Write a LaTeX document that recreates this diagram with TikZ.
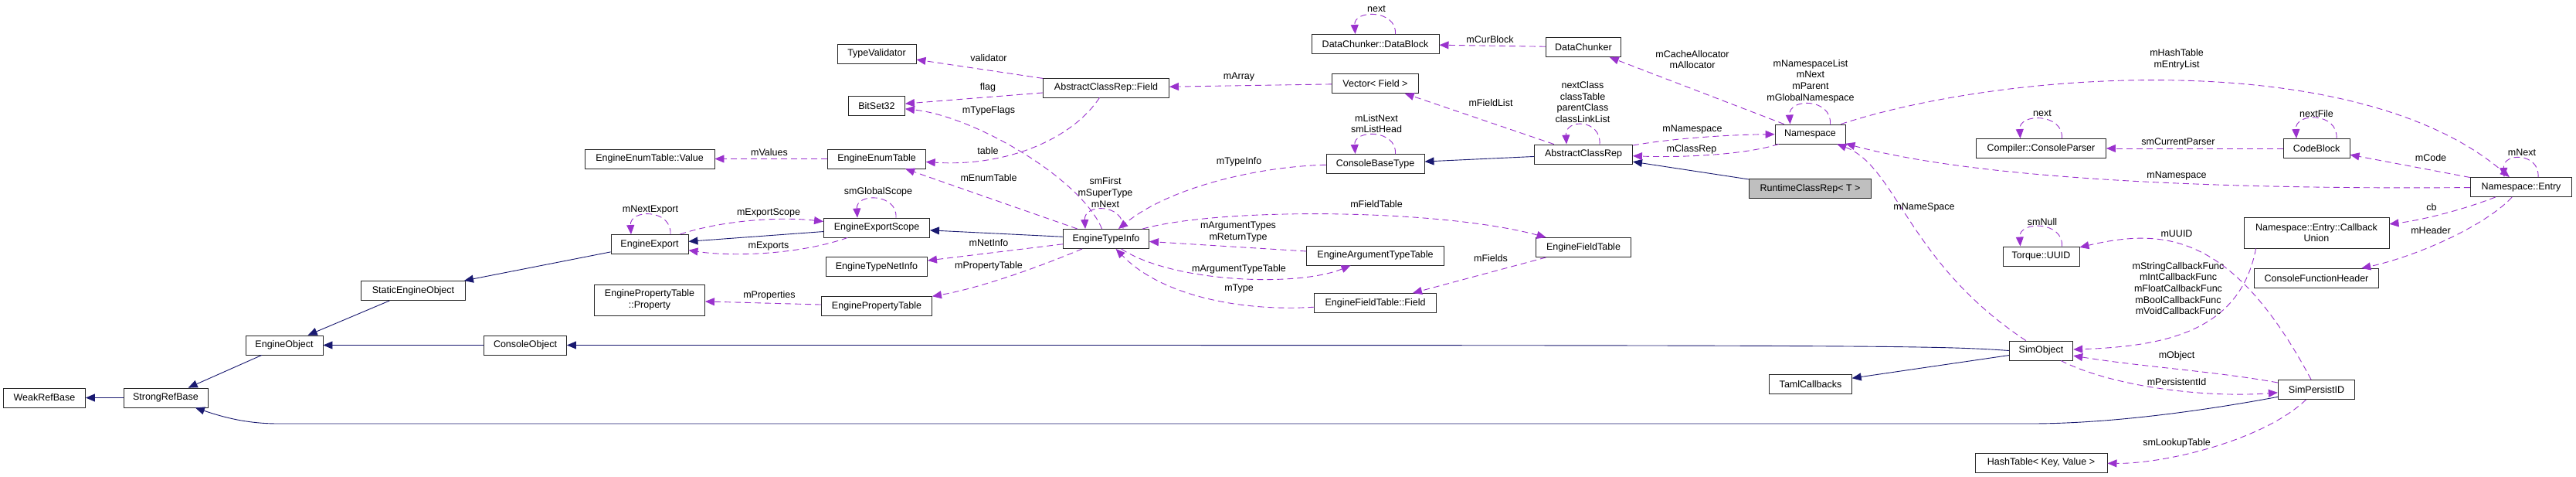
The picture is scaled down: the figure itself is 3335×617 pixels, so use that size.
\documentclass[tikz,border=0pt]{standalone}
\usepackage{fontspec}
\setmainfont{Liberation Sans}
\usetikzlibrary{arrows.meta}
\definecolor{inhBlue}{HTML}{191970}
\definecolor{usePurple}{HTML}{9A32CD}
\definecolor{curGray}{HTML}{BFBFBF}

\tikzset{
  cls/.style={draw=black!85, line width=0.9pt, fill=white, minimum height=25pt, inner sep=0pt, font=\fontsize{12.5}{14.7}\selectfont},
  cls2/.style={cls, minimum height=40pt, align=center},
  inh/.style={-{Triangle[length=12pt,width=10pt]}, line width=0.9pt, color=inhBlue},
  usage/.style={-{Triangle[length=12pt,width=10pt]}, line width=0.9pt, color=usePurple, dash pattern=on 8pt off 5pt},
  lbl/.style={font=\fontsize{12.5}{14.7}\selectfont, inner sep=0pt, align=center},
}

\begin{document}
\begin{tikzpicture}[x=1pt, y=-1pt]
  \fill[white] (0,0) rectangle (3335,617);
  \useasboundingbox (0,0) rectangle (3335,617);

  \node[cls, minimum width=106pt] (wrb) at (57.5,514.5) {WeakRefBase};
  \node[cls, minimum width=109pt] (srb) at (214.5,514.5) {StrongRefBase};
  \node[cls, minimum width=100pt] (eobj) at (368,446.5) {EngineObject};
  \node[cls, minimum width=135pt] (seo) at (535,376) {StaticEngineObject};
  \node[cls, minimum width=107pt] (cobj) at (680,446.5) {ConsoleObject};
  \node[cls, minimum width=168pt] (eeval) at (841,205.5) {EngineEnumTable::Value};
  \node[cls, minimum width=100pt] (eexp) at (841,316) {EngineExport};
  \node[cls2, minimum width=143pt] (eprop) at (841,388) {EnginePropertyTable\\::Property};
  \node[cls, minimum width=102pt] (tval) at (1135,69.5) {TypeValidator};
  \node[cls, minimum width=73pt] (bits) at (1135,137) {BitSet32};
  \node[cls, minimum width=126.5pt] (eenum) at (1135,205.5) {EngineEnumTable};
  \node[cls, minimum width=137pt] (escope) at (1135,294.5) {EngineExportScope};
  \node[cls, minimum width=131pt] (etnet) at (1135,345) {EngineTypeNetInfo};
  \node[cls, minimum width=143pt] (eptab) at (1135,396) {EnginePropertyTable};
  \node[cls, minimum width=163pt] (acrf) at (1432,113.5) {AbstractClassRep::Field};
  \node[cls, minimum width=111pt] (etinfo) at (1432,309) {EngineTypeInfo};
  \node[cls, minimum width=165pt] (dblock) at (1780.5,57) {DataChunker::DataBlock};
  \node[cls, minimum width=112.5pt] (vecf) at (1780.5,108) {Vector< Field >};
  \node[cls, minimum width=127pt] (cbt) at (1780.5,212) {ConsoleBaseType};
  \node[cls, minimum width=177.5pt] (eatt) at (1780.5,330.5) {EngineArgumentTypeTable};
  \node[cls, minimum width=157.5pt] (eff) at (1780.5,392) {EngineFieldTable::Field};
  \node[cls, minimum width=97.5pt] (dchunk) at (2050,61) {DataChunker};
  \node[cls, minimum width=127pt] (acr) at (2050,199.5) {AbstractClassRep};
  \node[cls, minimum width=122.5pt] (eftab) at (2050,320) {EngineFieldTable};
  \node[cls, minimum width=91pt] (nspace) at (2343.5,173.5) {Namespace};
  \node[cls, minimum width=158pt, fill=curGray] (rcr) at (2343.5,244) {RuntimeClassRep< T >};
  \node[cls, minimum width=106.5pt] (taml) at (2344,497) {TamlCallbacks};
  \node[cls, minimum width=168pt] (cparser) at (2642.5,192) {Compiler::ConsoleParser};
  \node[cls, minimum width=99pt] (tuuid) at (2642.5,331.5) {Torque::UUID};
  \node[cls, minimum width=82.5pt] (simobj) at (2642.5,453.5) {SimObject};
  \node[cls, minimum width=171pt] (htab) at (2642.5,598.5) {HashTable< Key, Value >};
  \node[cls, minimum width=86pt] (cblock) at (2999,192) {CodeBlock};
  \node[cls2, minimum width=188pt] (cbu) at (2999,301) {Namespace::Entry::Callback\\Union};
  \node[cls, minimum width=160.5pt] (cfh) at (2999,360) {ConsoleFunctionHeader};
  \node[cls, minimum width=99.5pt] (spid) at (2999,504) {SimPersistID};
  \node[cls, minimum width=131.5pt] (nentry) at (3264,242) {Namespace::Entry};

  \draw[inh] (srb) -- (wrb);
  \draw[inh] (eobj) -- (srb);
  \draw[inh] (seo) -- (eobj);
  \draw[inh] (eexp) -- ([xshift=-2pt]seo.north east);
  \draw[inh] (escope) -- (eexp);
  \draw[inh] (etinfo) -- (escope);
  \draw[inh] (cobj) -- (eobj);
  \draw[inh] (simobj.west) .. controls (2500,446.5) and (2450,446.5) .. (cobj.east);
  \draw[inh] (simobj) -- (taml);
  \draw[inh] (acr) -- (cbt);
  \draw[inh] (rcr) -- (acr);
  \draw[inh] (spid) .. controls (2860,530) and (2735,548) .. (2630,548) -- (360,548) .. controls (320,548) and (290,540) .. (srb);

  \draw[usage] (acrf) -- (tval);
  \draw[usage] (acrf) -- (bits);
  \draw[usage] (etinfo) .. controls (1399,230) and (1260,150) .. (bits);
  \draw[usage] (acrf) .. controls (1388,180) and (1303,216) .. (eenum);
  \draw[usage] (etinfo) -- (eenum);
  \draw[usage] (eenum) -- (eeval);
  \draw[usage] ([xshift=25pt]escope.north) .. controls +(2,-32) and +(-2,-32) .. ([xshift=-25pt]escope.north);
  \draw[usage] ([xshift=27pt]eexp.north) .. controls +(2,-33) and +(-2,-33) .. ([xshift=-24pt]eexp.north);
  \draw[usage] (eexp) .. controls (935,285) and (1010,280) .. (escope);
  \draw[usage] (escope) .. controls (1032,330) and (946,332) .. (eexp);
  \draw[usage] (etinfo) -- (etnet);
  \draw[usage] (etinfo) .. controls (1346,345) and (1271,372) .. (eptab);
  \draw[usage] (eptab) -- (eprop);
  \draw[usage] ([xshift=22pt]etinfo.north) .. controls +(2,-33) and +(-2,-33) .. ([xshift=-27pt]etinfo.north);
  \draw[usage] (vecf) -- (acrf);
  \draw[usage] (cbt) .. controls (1635,215) and (1517,240) .. (etinfo);
  \draw[usage] (etinfo) .. controls (1581,268) and (1863,270) .. (eftab);
  \draw[usage] (eatt) -- (etinfo);
  \draw[usage] (etinfo) .. controls (1517,365) and (1678,372) .. (eatt);
  \draw[usage] (eff) .. controls (1613,403) and (1506,385) .. (etinfo);
  \draw[usage] (eftab) -- (eff);
  \draw[usage] ([xshift=26pt]dblock.north) .. controls +(2,-32) and +(-2,-32) .. ([xshift=-26pt]dblock.north);
  \draw[usage] (dchunk) -- (dblock);
  \draw[usage] (acr) -- (vecf);
  \draw[usage] ([xshift=26pt]cbt.north) .. controls +(2,-32) and +(-2,-32) .. ([xshift=-26pt]cbt.north);
  \draw[usage] ([xshift=21pt]acr.north) .. controls +(2,-33) and +(-2,-33) .. ([xshift=-22pt]acr.north);
  \draw[usage] (nspace) -- (dchunk);
  \draw[usage] (acr) .. controls (2170,178) and (2250,174) .. (nspace);
  \draw[usage] (nspace) .. controls (2260,200) and (2180,204) .. (acr);
  \draw[usage] ([xshift=26pt]nspace.north) .. controls +(2,-34) and +(-2,-34) .. ([xshift=-26pt]nspace.north);
  \draw[usage] (nspace) .. controls (2600,90) and (3050,60) .. (nentry);
  \draw[usage] (nentry) .. controls (2909,245) and (2573,235) .. (nspace);
  \draw[usage] (simobj) .. controls (2470,340) and (2455,215) .. (nspace);
  \draw[usage] ([xshift=27pt]cparser.north) .. controls +(2,-33) and +(-2,-33) .. ([xshift=-27pt]cparser.north);
  \draw[usage] (cblock) -- (cparser);
  \draw[usage] ([xshift=26pt]cblock.north) .. controls +(2,-34) and +(-2,-34) .. ([xshift=-26pt]cblock.north);
  \draw[usage] (nentry) -- (cblock);
  \draw[usage] ([xshift=22pt]nentry.north) .. controls +(2,-32) and +(-2,-32) .. ([xshift=-22pt]nentry.north);
  \draw[usage] (nentry) .. controls (3187,272) and (3134,285) .. (cbu);
  \draw[usage] (nentry) .. controls (3220,290) and (3134,330) .. (cfh);
  \draw[usage] ([xshift=27pt]tuuid.north) .. controls +(2,-33) and +(-2,-33) .. ([xshift=-27pt]tuuid.north);
  \draw[usage] (spid) .. controls (2890,300) and (2800,295) .. (tuuid);
  \draw[usage] ([xshift=16pt]cbu.south west) .. controls (2900,430) and (2800,448) .. (simobj);
  \draw[usage] (spid) .. controls (2866,480) and (2777,475) .. (simobj);
  \draw[usage] (simobj) .. controls (2734,500) and (2855,515) .. (spid);
  \draw[usage] (spid) .. controls (2930,570) and (2802,600) .. (htab);

  \node[lbl] (lValidator) at (1280,75) {validator};
  \node[lbl] (lFlag) at (1279,113) {flag};
  \node[lbl] (lTypeFlags) at (1280,143) {mTypeFlags};
  \node[lbl] (lTable) at (1279,195) {table};
  \node[lbl] (lEnumTable) at (1280,230) {mEnumTable};
  \node[lbl] (lValues) at (996,197) {mValues};
  \node[lbl] (lGlobalScope) at (1137,248) {smGlobalScope};
  \node[lbl] (lNextExport) at (842,271) {mNextExport};
  \node[lbl] (lExportScope) at (995,275) {mExportScope};
  \node[lbl] (lExports) at (995,318) {mExports};
  \node[lbl] (lNetInfo) at (1280,314) {mNetInfo};
  \node[lbl] (lPropTable) at (1280,344) {mPropertyTable};
  \node[lbl] (lProperties) at (996,382) {mProperties};
  \node[lbl] (lTypeSelf) at (1431,249) {smFirst\\mSuperType\\mNext};
  \node[lbl] (lArray) at (1604,100) {mArray};
  \node[lbl] (lTypeInfo) at (1604,209) {mTypeInfo};
  \node[lbl] (lFieldTable) at (1782,264) {mFieldTable};
  \node[lbl] (lArgTypes) at (1603,300) {mArgumentTypes\\mReturnType};
  \node[lbl] (lArgTable) at (1604,348) {mArgumentTypeTable};
  \node[lbl] (lType) at (1604,373) {mType};
  \node[lbl] (lFields) at (1930,334) {mFields};
  \node[lbl] (lBlockNext) at (1782,12) {next};
  \node[lbl] (lCurBlock) at (1929,51) {mCurBlock};
  \node[lbl] (lFieldList) at (1930,133) {mFieldList};
  \node[lbl] (lListHead) at (1782,160) {mListNext\\smListHead};
  \node[lbl] (lClassSelf) at (2049,132) {nextClass\\classTable\\parentClass\\classLinkList};
  \node[lbl] (lAllocator) at (2191,77) {mCacheAllocator\\mAllocator};
  \node[lbl] (lNamespace) at (2191,168) {mNamespace};
  \node[lbl] (lClassRep) at (2190,193) {mClassRep};
  \node[lbl] (lNsSelf) at (2344,105) {mNamespaceList\\mNext\\mParent\\mGlobalNamespace};
  \node[lbl] (lHashTable) at (2818,77) {mHashTable\\mEntryList};
  \node[lbl] (lEntryNs) at (2818,227) {mNamespace};
  \node[lbl] (lNameSpace) at (2491,268) {mNameSpace};
  \node[lbl] (lParserNext) at (2644,147) {next};
  \node[lbl] (lCurParser) at (2820,183) {smCurrentParser};
  \node[lbl] (lNextFile) at (2999,147) {nextFile};
  \node[lbl] (lCode) at (3147,204) {mCode};
  \node[lbl] (lEntryNext) at (3265,197) {mNext};
  \node[lbl] (lCb) at (3148,268) {cb};
  \node[lbl] (lHeader) at (3147,298) {mHeader};
  \node[lbl] (lNull) at (2644,287) {smNull};
  \node[lbl] (lUUID) at (2818,302) {mUUID};
  \node[lbl] (lCallbacks) at (2820,373) {mStringCallbackFunc\\mIntCallbackFunc\\mFloatCallbackFunc\\mBoolCallbackFunc\\mVoidCallbackFunc};
  \node[lbl] (lObject) at (2818,460) {mObject};
  \node[lbl] (lPersistent) at (2818,494) {mPersistentId};
  \node[lbl] (lLookup) at (2818,573) {smLookupTable};
\end{tikzpicture}
\end{document}
